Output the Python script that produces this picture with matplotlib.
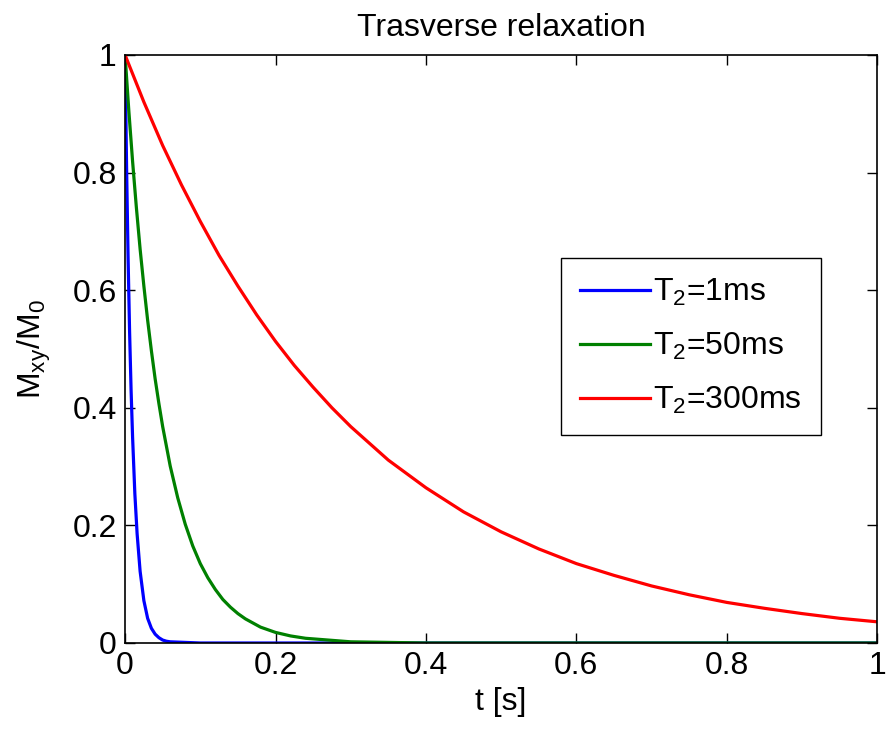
import matplotlib
matplotlib.use("Agg")
import matplotlib.pyplot as plt

# ---- data ----
t_blue = [0, 0.002, 0.004, 0.006, 0.008, 0.010, 0.013, 0.016, 0.020, 0.025,
          0.030, 0.035, 0.040, 0.045, 0.050, 0.055, 0.060, 0.1, 0.5, 1.0]
m_blue = [1.0, 0.81, 0.656, 0.53, 0.43, 0.35, 0.254, 0.186, 0.122, 0.072,
          0.042, 0.025, 0.015, 0.009, 0.005, 0.003, 0.002, 0.0, 0.0, 0.0]

t_green = [0, 0.005, 0.01, 0.015, 0.02, 0.025, 0.03, 0.035, 0.04, 0.045, 0.05,
           0.06, 0.07, 0.08, 0.09, 0.10, 0.11, 0.12, 0.13, 0.14, 0.15, 0.16,
           0.18, 0.20, 0.22, 0.24, 0.26, 0.28, 0.30, 0.35, 0.40, 1.0]
m_green = [1.0, 0.905, 0.819, 0.741, 0.670, 0.607, 0.549, 0.497, 0.449, 0.407, 0.368,
           0.301, 0.247, 0.202, 0.165, 0.135, 0.111, 0.091, 0.074, 0.061, 0.050, 0.041,
           0.027, 0.018, 0.012, 0.008, 0.006, 0.004, 0.002, 0.001, 0.0, 0.0]

t_red = [0, 0.025, 0.05, 0.075, 0.1, 0.125, 0.15, 0.175, 0.2, 0.225, 0.25, 0.275, 0.3,
         0.35, 0.4, 0.45, 0.5, 0.55, 0.6, 0.65, 0.7, 0.75, 0.8, 0.85, 0.9, 0.95, 1.0]
m_red = [1.0, 0.920, 0.846, 0.779, 0.717, 0.659, 0.607, 0.558, 0.513, 0.472, 0.435, 0.400, 0.368,
         0.311, 0.264, 0.223, 0.189, 0.160, 0.135, 0.115, 0.097, 0.082, 0.069, 0.059, 0.050, 0.042, 0.036]

labels = ["T$_2$=1ms", "T$_2$=50ms", "T$_2$=300ms"]
x_ticks = [0, 0.2, 0.4, 0.6, 0.8, 1]
x_ticklabels = ["0", "0.2", "0.4", "0.6", "0.8", "1"]
y_ticks = [0, 0.2, 0.4, 0.6, 0.8, 1]
y_ticklabels = ["0", "0.2", "0.4", "0.6", "0.8", "1"]

# ---- style ----
plt.rcParams["font.family"] = ["Liberation Sans", "DejaVu Sans"]
plt.rcParams["mathtext.fontset"] = "custom"
plt.rcParams["mathtext.rm"] = "Liberation Sans"
plt.rcParams["mathtext.it"] = "Liberation Sans"
plt.rcParams["mathtext.default"] = "regular"
FS = 23

fig = plt.figure(figsize=(8.87, 7.31), dpi=100)
ax = fig.add_axes([0.141, 0.1204, 0.848, 0.8044])

lw = 2.3
ax.plot(t_blue, m_blue, color="#0000ff", lw=lw, label=labels[0])
ax.plot(t_green, m_green, color="#008000", lw=lw, label=labels[1])
ax.plot(t_red, m_red, color="#ff0000", lw=lw, label=labels[2])

ax.set_xlim(0, 1)
ax.set_ylim(0, 1)
ax.set_xticks(x_ticks)
ax.set_xticklabels(x_ticklabels)
ax.set_yticks(y_ticks)
ax.set_yticklabels(y_ticklabels)
ax.tick_params(direction="in", length=7, width=1, top=True, right=True,
               labelsize=FS, pad=6, colors="black")
for s in ax.spines.values():
    s.set_linewidth(1.2)
    s.set_color("black")

ax.set_title("Trasverse relaxation", fontsize=FS, pad=14)
ax.set_xlabel("t [s]", fontsize=FS, labelpad=4)
ax.set_ylabel("M$_{xy}$/M$_0$", fontsize=FS, labelpad=14)

leg = ax.legend(loc="upper left", bbox_to_anchor=(0.579, 0.655), fontsize=FS,
                frameon=True, fancybox=False, shadow=False, framealpha=1,
                edgecolor="black", handlelength=2.2, handletextpad=0.1,
                labelspacing=0.72, borderpad=0.6, borderaxespad=0)
leg.get_frame().set_linewidth(1.0)

fig.savefig("out.png", dpi=100)
